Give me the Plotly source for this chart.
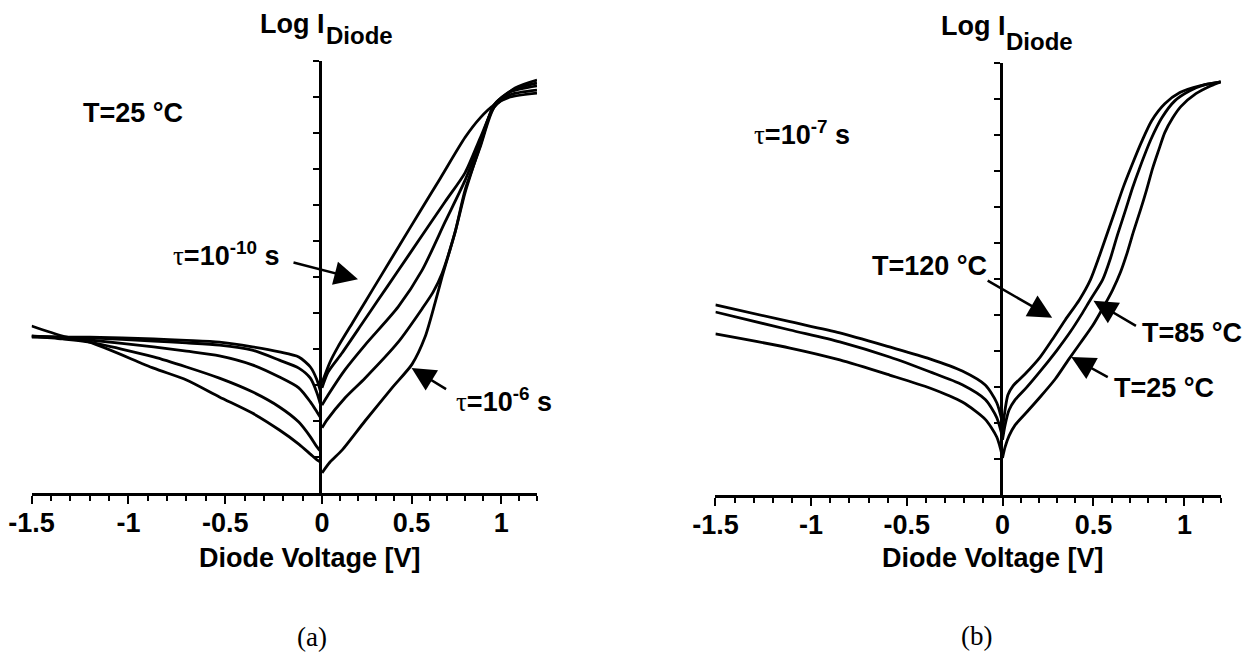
import plotly.graph_objects as go

W, H = 1251, 652
OFF = 8  # page body margin the browser adds around the figure

# ---------------- data: panel (a)  T = 25 °C, lifetime tau varied ----------------
a_taus = ["1e-10 s", "1e-9 s", "1e-8 s", "1e-7 s", "1e-6 s"]
a_rev_v = [-1.5, -1.34, -1.2, -0.87, -0.70, -0.53, -0.36, -0.22, -0.12, -0.06, -0.026, 0.0]
a_rev_logi = [
    [4.36, 4.33, 4.33, 4.28, 4.24, 4.19, 4.06, 3.92, 3.78, 3.50, 3.14, 2.67],
    [4.36, 4.33, 4.31, 4.22, 4.17, 4.11, 3.97, 3.69, 3.47, 3.19, 2.78, 2.31],
    [4.33, 4.31, 4.25, 4.06, 3.94, 3.81, 3.56, 3.22, 2.92, 2.53, 2.25, 2.03],
    [4.36, 4.28, 4.19, 3.78, 3.50, 3.19, 2.81, 2.39, 1.97, 1.56, 1.28, 1.11],
    [4.64, 4.36, 4.19, 3.47, 3.14, 2.67, 2.22, 1.75, 1.36, 1.08, 0.92, 0.83],
]
a_fwd_v = [
    [0, 0.045, 0.089, 0.168, 0.240, 0.324, 0.436, 0.547, 0.659, 0.799, 0.883, 0.961, 1.05, 1.2],
    [0, 0.034, 0.112, 0.223, 0.313, 0.419, 0.547, 0.687, 0.799, 0.883, 0.961, 1.05, 1.2],
    [0, 0.034, 0.128, 0.240, 0.425, 0.559, 0.687, 0.799, 0.883, 0.961, 1.05, 1.2],
    [0, 0.028, 0.128, 0.240, 0.425, 0.559, 0.620, 0.670, 0.743, 0.799, 0.883, 0.961, 1.061, 1.2],
    [0, 0.045, 0.112, 0.240, 0.391, 0.503, 0.575, 0.631, 0.670, 0.743, 0.799, 0.883, 0.961, 1.078, 1.2],
]
a_fwd_logi = [
    [3.06, 3.64, 4.06, 4.71, 5.30, 5.99, 6.91, 7.82, 8.73, 9.88, 10.42, 10.78, 11.00, 11.11],
    [2.92, 3.36, 3.89, 4.70, 5.36, 6.13, 7.07, 8.09, 8.90, 9.86, 10.72, 11.06, 11.19],
    [2.44, 2.72, 3.42, 4.11, 5.17, 6.19, 7.53, 8.69, 9.75, 10.78, 11.14, 11.31],
    [1.81, 2.03, 2.64, 3.19, 4.19, 5.12, 5.58, 6.10, 7.25, 8.35, 9.65, 10.78, 11.19, 11.39],
    [0.56, 0.86, 1.19, 2.00, 2.92, 3.58, 4.33, 5.28, 6.00, 7.25, 8.42, 9.61, 10.72, 11.25, 11.47],
]

# ---------------- data: panel (b)  tau = 1e-7 s, temperature varied ----------------
b_temps = ["120 °C", "85 °C", "25 °C"]
b_rev_v = [-1.5, -1.11, -0.85, -0.59, -0.38, -0.21, -0.09, -0.03, 0.0]
b_rev_logi = [
    [5.28, 4.81, 4.50, 4.11, 3.78, 3.44, 3.05, 2.56, 2.00],
    [5.08, 4.58, 4.25, 3.83, 3.42, 3.06, 2.65, 2.15, 1.61],
    [4.47, 4.08, 3.75, 3.33, 2.97, 2.58, 2.10, 1.61, 1.06],
]
b_fwd_v = [
    [0, 0.014, 0.030, 0.058, 0.124, 0.207, 0.273, 0.345, 0.423, 0.483, 0.533, 0.577, 0.621,
     0.665, 0.710, 0.765, 0.820, 0.892, 0.975, 1.085, 1.2],
    [0, 0.014, 0.036, 0.069, 0.135, 0.218, 0.301, 0.373, 0.433, 0.483, 0.550, 0.594, 0.632,
     0.677, 0.715, 0.754, 0.815, 0.876, 0.947, 1.030, 1.113, 1.2],
    [0, 0.014, 0.036, 0.069, 0.135, 0.207, 0.290, 0.362, 0.428, 0.494, 0.555, 0.605, 0.649,
     0.687, 0.720, 0.759, 0.792, 0.826, 0.859, 0.892, 0.936, 0.980, 1.063, 1.146, 1.2],
]
b_fwd_logi = [
    [1.81, 2.36, 2.78, 3.03, 3.36, 3.83, 4.31, 4.86, 5.42, 5.97, 6.64, 7.28, 7.92,
     8.56, 9.14, 9.81, 10.39, 10.86, 11.17, 11.36, 11.47],
    [1.53, 1.94, 2.36, 2.64, 3.00, 3.50, 4.03, 4.53, 5.00, 5.42, 5.97, 6.58, 7.22,
     7.92, 8.53, 9.08, 9.86, 10.47, 10.94, 11.22, 11.39, 11.47],
    [1.03, 1.33, 1.64, 1.94, 2.31, 2.72, 3.22, 3.75, 4.22, 4.69, 5.22, 5.69, 6.19,
     6.75, 7.31, 7.92, 8.47, 9.08, 9.58, 10.06, 10.47, 10.78, 11.14, 11.36, 11.47],
]

x_major_neg = [-1.5, -1, -0.5, 0]
x_major_neg_text = ["-1.5", "-1", "-0.5", "0"]
x_major_pos = [0.5, 1]
x_major_pos_text = ["0.5", "1"]
x_minor_neg = [round(-1.5 + 0.1 * k, 1) for k in range(16)]
x_minor_pos = [round(0.1 * k, 1) for k in range(13)]
y_ticks = list(range(1, 13))

# ---------------- figure ----------------
BOLD = "Liberation Sans, Arial, Helvetica, sans-serif"
SERIF = "Liberation Serif, Times New Roman, serif"
LW = 2.8

fig = go.Figure()
line = dict(color="black", width=LW, shape="spline", smoothing=0.7)

for k, name in enumerate(a_taus):
    fig.add_trace(go.Scatter(x=a_rev_v, y=a_rev_logi[k], mode="lines", line=line,
                             xaxis="x", yaxis="y", name=name, showlegend=False))
    fig.add_trace(go.Scatter(x=a_fwd_v[k], y=a_fwd_logi[k], mode="lines", line=line,
                             xaxis="x2", yaxis="y", name=name, showlegend=False))
for k, name in enumerate(b_temps):
    fig.add_trace(go.Scatter(x=b_rev_v, y=b_rev_logi[k], mode="lines", line=line,
                             xaxis="x3", yaxis="y3", name=name, showlegend=False))
    fig.add_trace(go.Scatter(x=b_fwd_v[k], y=b_fwd_logi[k], mode="lines", line=line,
                             xaxis="x4", yaxis="y3", name=name, showlegend=False))

tickfont = dict(family=BOLD, size=27, color="black", weight="bold")


def hx(px):
    return (px - OFF) / W


def hy(py):
    return 1 - (py - OFF) / H


def xax(p0, p1, rng, anchor, vals, texts, minor_vals):
    return dict(domain=[hx(p0), hx(p1)], range=rng, anchor=anchor, showgrid=False, zeroline=False,
                automargin=False, showline=True, linecolor="black", linewidth=2.5,
                ticks="outside", ticklen=8, tickwidth=2, tickcolor="black",
                tickmode="array", tickvals=vals, ticktext=texts, tickfont=tickfont,
                ticklabelstandoff=-4,
                minor=dict(tickmode="array", tickvals=minor_vals, ticks="outside",
                           ticklen=5, tickwidth=2, tickcolor="black", showgrid=False),
                fixedrange=True)


def yax(p_bot, p_top, anchor, side, overlay=None):
    d = dict(range=[0, 12], anchor=anchor, side=side, showgrid=False, zeroline=False,
             automargin=False, showline=True, linecolor="black", linewidth=2.5,
             ticks="outside", ticklen=6, tickwidth=2, tickcolor="black",
             tickmode="array", tickvals=y_ticks, showticklabels=False, fixedrange=True)
    if overlay:
        d["overlaying"] = overlay
    else:
        d["domain"] = [hy(p_bot), hy(p_top)]
    return d


fig.update_layout(
    template="none",
    width=W, height=H, margin=dict(l=0, r=0, t=0, b=0, pad=0, autoexpand=False),
    paper_bgcolor="white", plot_bgcolor="rgba(0,0,0,0)", showlegend=False,
    xaxis=xax(31.6, 322, [-1.5, 0], "y", x_major_neg, x_major_neg_text, x_minor_neg),
    xaxis2=xax(322, 537, [0, 1.2], "y", x_major_pos, x_major_pos_text, x_minor_pos),
    xaxis3=xax(715.4, 1002.5, [-1.5, 0], "y3", x_major_neg, x_major_neg_text, x_minor_neg),
    xaxis4=xax(1002.5, 1220.8, [0, 1.2], "y3", x_major_pos, x_major_pos_text, x_minor_pos),
    yaxis=yax(493, 61, "x2", "left"),
    yaxis2=yax(493, 61, "x", "right", overlay="y"),
    yaxis3=yax(495, 62.7, "x4", "left"),
    yaxis4=yax(495, 62.7, "x3", "right", overlay="y3"),
)


def text(px, py, s, size=27, family=BOLD, bold=True):
    f = dict(family=family, size=size, color="black")
    if bold:
        f["weight"] = "bold"
    fig.add_annotation(x=hx(px), y=hy(py), xref="paper", yref="paper", text=s, showarrow=False,
                       xanchor="center", yanchor="middle", font=f)


TAU = '<span style="font-family:Liberation Serif;font-weight:normal">τ</span>'

# panel (a) texts
text(291.5, 24, "Log I")
text(359.5, 36, "Diode", size=24)
text(132.5, 113, "T=25 °C")
text(226.5, 254, TAU + "=10<sup>-10</sup> s")
text(504, 400, TAU + "=10<sup>-6</sup> s")
text(309.5, 558, "Diode Voltage [V]")
text(312, 637, "(a)", family=SERIF, bold=False)

# panel (b) texts
text(973, 26, "Log I")
text(1039.5, 41, "Diode", size=24)
text(802, 133, TAU + "=10<sup>-7</sup> s")
text(929, 266, "T=120 °C")
text(1191.5, 333, "T=85 °C")
text(1163.5, 388, "T=25 °C")
text(993, 558, "Diode Voltage [V]")
text(976, 636, "(b)", family=SERIF, bold=False)


def arrow(xref, yref, x, y, ax, ay):
    fig.add_annotation(x=x, y=y, xref=xref, yref=yref, ax=ax, ay=ay, axref="pixel", ayref="pixel",
                       text="", showarrow=True, arrowhead=2, arrowsize=1.9, arrowwidth=2.5,
                       arrowcolor="black", standoff=0, startstandoff=0)


arrow("x2", "y", 0.201, 5.94, -66, -17)    # tau = 1e-10 s
arrow("x2", "y", 0.50, 3.47, 36, 22)       # tau = 1e-6 s
arrow("x4", "y3", 0.273, 4.92, -66, -38)   # T = 120 °C
arrow("x4", "y3", 0.50, 5.39, 44, 26)      # T = 85 °C
arrow("x4", "y3", 0.378, 3.83, 38, 21)     # T = 25 °C

fig.write_html("out.html")
